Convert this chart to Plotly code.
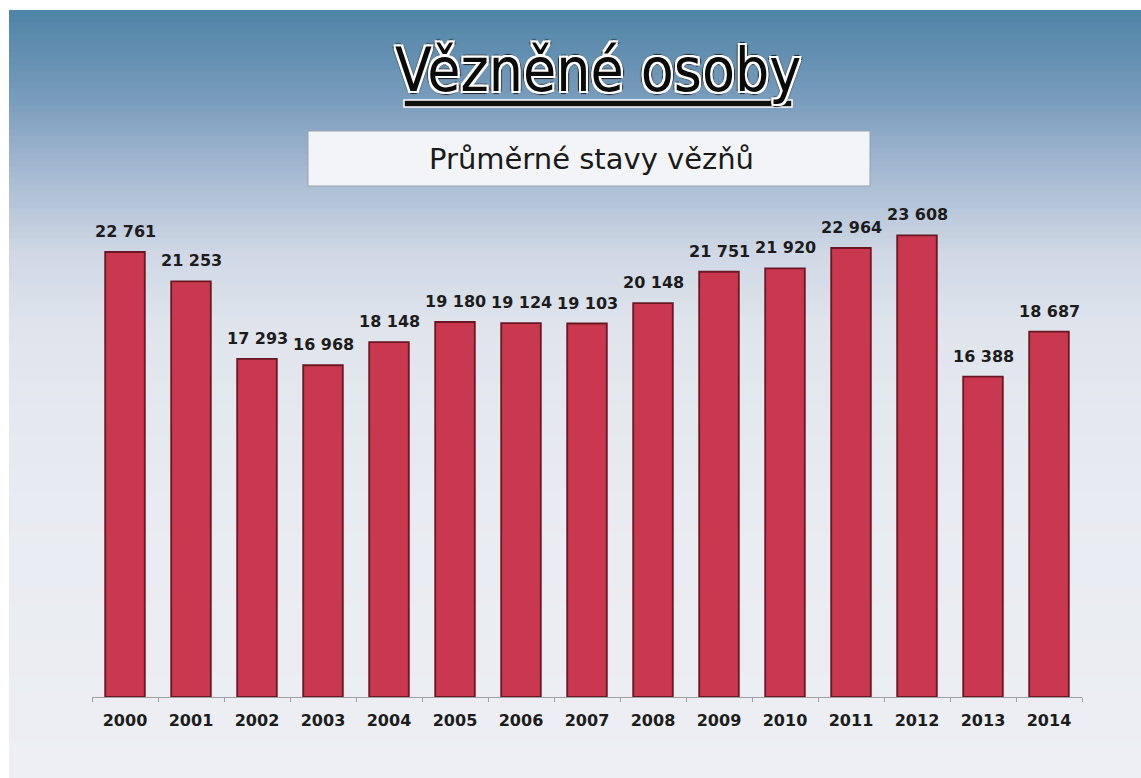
import plotly.graph_objects as go

# ---- data ----
years = ["2000", "2001", "2002", "2003", "2004", "2005", "2006", "2007",
         "2008", "2009", "2010", "2011", "2012", "2013", "2014"]
prisoners = [22761, 21253, 17293, 16968, 18148, 19180, 19124, 19103,
             20148, 21751, 21920, 22964, 23608, 16388, 18687]
title_text = "Vězněné osoby"
subtitle_text = "Průměrné stavy vězňů"

W, H = 1141, 778


def px(x):
    return x / W


def py(y):
    return 1 - y / H


def lerp(c1, c2, t):
    return tuple(round(a + (b - a) * t) for a, b in zip(c1, c2))


# background gradient stops (pixel y, rgb)
stops = [(10, (78, 132, 166)), (90, (116, 153, 186)), (170, (164, 185, 209)),
         (250, (206, 215, 228)), (330, (224, 229, 237)), (500, (232, 235, 241)),
         (778, (237, 239, 244))]

shapes = []
band = 6
y = 10
while y < H:
    y2 = min(y + band, H)
    mid = (y + y2) / 2
    for (ya, ca), (yb, cb) in zip(stops[:-1], stops[1:]):
        if ya <= mid <= yb:
            c = lerp(ca, cb, (mid - ya) / (yb - ya))
            break
    else:
        c = stops[-1][1]
    shapes.append(dict(type="rect", xref="paper", yref="paper",
                       x0=px(9), x1=1, y0=py(y2), y1=py(y),
                       fillcolor="rgb(%d,%d,%d)" % c, line=dict(width=0),
                       layer="below"))
    y = y2

# title underline
shapes.append(dict(type="rect", xref="paper", yref="paper",
                   x0=px(404), x1=px(792), y0=py(107), y1=py(100),
                   fillcolor="#111111", line=dict(color="#ffffff", width=1.5)))
# subtitle box
shapes.append(dict(type="rect", xref="paper", yref="paper",
                   x0=px(308), x1=px(870), y0=py(186), y1=py(131),
                   fillcolor="#f3f4f7", line=dict(color="#9aa1aa", width=1)))

fig = go.Figure()
fig.add_trace(go.Bar(
    x=years, y=prisoners,
    marker=dict(color="#c9384e", line=dict(color="#6a1723", width=1.8)),
    hoverinfo="skip",
))

halo = ("-2px 0 0 #fff, 2px 0 0 #fff, 0 -2px 0 #fff, 0 2px 0 #fff, "
        "-2px -2px 0 #fff, 2px 2px 0 #fff, -2px 2px 0 #fff, 2px -2px 0 #fff, "
        "-3px 0 1px #222, 3px 0 1px #222, 0 -3px 1px #222, 0 3px 1px #222")

annotations = [
    dict(text=title_text, xref="paper", yref="paper", x=px(598), y=py(70),
         xanchor="center", yanchor="middle", showarrow=False,
         font=dict(family="DejaVu Sans Condensed, Liberation Sans Narrow, sans-serif",
                   size=60, color="#0a0a0a", shadow=halo)),
    dict(text=subtitle_text, xref="paper", yref="paper", x=px(591), y=py(159),
         xanchor="center", yanchor="middle", showarrow=False,
         font=dict(family="DejaVu Sans", size=29, color="#1a1a1a")),
]

# value labels: category serial number on the category axis
for i, v in enumerate(prisoners):
    annotations.append(dict(
        text=f"{v:,}".replace(",", " "), x=i, y=v, xref="x", yref="y",
        xanchor="center", yanchor="bottom", yshift=9, showarrow=False,
        font=dict(family="DejaVu Sans", size=16, color="#1c1c1c",
                  weight="bold")))

fig.update_layout(
    width=W, height=H, autosize=False,
    margin=dict(l=0, r=0, t=0, b=0),
    paper_bgcolor="#ffffff", plot_bgcolor="rgba(0,0,0,0)",
    bargap=0.4,
    showlegend=False,
    shapes=shapes,
    annotations=annotations,
    xaxis=dict(type="category", domain=[px(92), px(1082)], range=[-0.5, 14.5],
               showline=True, linecolor="#a0a0a0", linewidth=1,
               ticks="outside", tickson="boundaries", ticklen=4,
               tickcolor="#a0a0a0", ticklabelstandoff=9,
               tickfont=dict(family="DejaVu Sans", size=16, color="#1c1c1c",
                             weight="bold"),
               showgrid=False, zeroline=False, fixedrange=True),
    yaxis=dict(domain=[py(697), py(200)], range=[0, 25420],
               visible=False, showgrid=False, zeroline=False, fixedrange=True),
)

fig.write_html("out.html")
